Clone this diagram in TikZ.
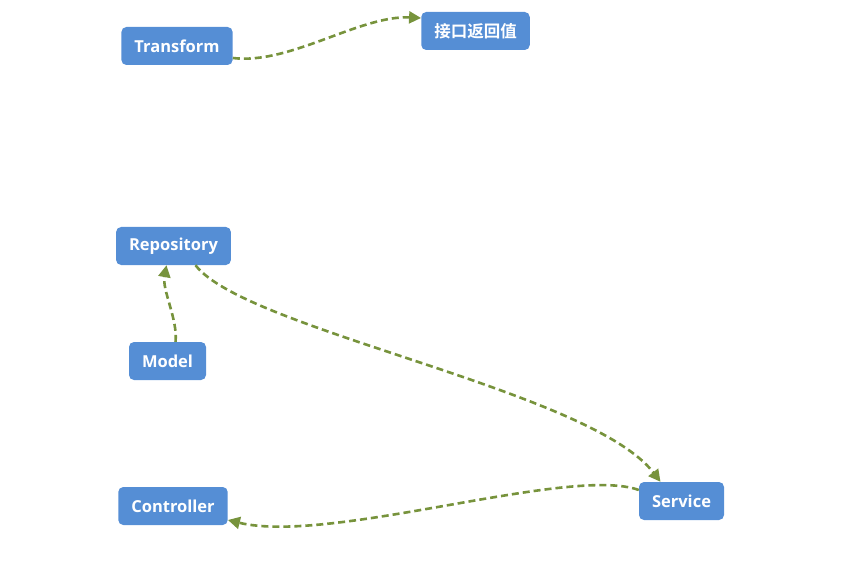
\documentclass[tikz,border=0pt]{standalone}
\usepackage{fontspec}
\setmainfont{Open Sans}
\newfontfamily\cjk{Noto Sans CJK SC}[BoldFont=* Bold]
\usetikzlibrary{arrows.meta}
\definecolor{boxblue}{HTML}{558ED5}
\definecolor{flowgreen}{HTML}{77933C}
\tikzset{
  box/.style={fill=boxblue, text=white, rounded corners=5pt, minimum height=38pt,
    inner xsep=13pt, font=\fontsize{16.5}{19}\selectfont\bfseries},
  flow/.style={draw=flowgreen, line width=2.6pt, dash pattern=on 7pt off 4pt,
    -{Triangle[length=12pt,width=12pt]}}
}
\begin{document}
\begin{tikzpicture}[x=1pt,y=-1pt]
      \useasboundingbox (0,0) rectangle (856,577);
      \node[box] (transform) at (177,46) {Transform};
      \node[box] (result) at (475.5,31) {\cjk 接口返回值};
      \node[box] (repository) at (173.5,246) {Repository};
      \node[box] (model) at (167.5,361) {Model};
      \node[box] (controller) at (173,506) {Controller};
      \node[box] (service) at (681.5,501) {Service};
      \draw[flow] ([yshift=-12pt]transform.east) .. controls (290,65) and (360,15) .. (result.west |- 0,18);
      \draw[flow] ([xshift=8pt]model.north) .. controls (178,320) and (162,290) .. ([xshift=-7pt]repository.south);
      \draw[flow] ([xshift=22pt]repository.south) .. controls (245,330) and (590,390) .. ([xshift=-21pt]service.north);
      \draw[flow] ([yshift=11pt]service.west) .. controls (570,465) and (330,545) .. ([yshift=-14pt]controller.east);
    \end{tikzpicture}
\end{document}
